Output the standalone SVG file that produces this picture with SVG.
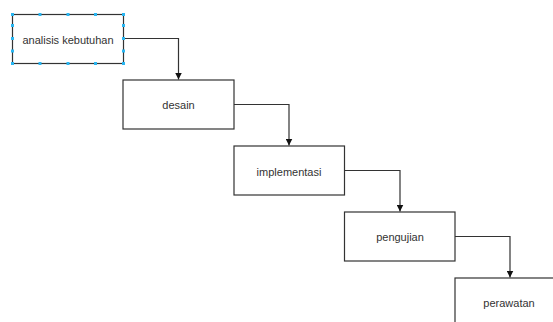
<svg xmlns="http://www.w3.org/2000/svg" width="553" height="322" viewBox="0 0 553 322">
<style>
.box{fill:#fff;stroke:#333;stroke-width:1.2}
.lbl{font-family:"Liberation Sans",Arial,sans-serif;font-size:11px;fill:#333;text-anchor:middle;dominant-baseline:central}
.edge{fill:none;stroke:#333;stroke-width:1.2}
.h{fill:#29b6f2}
</style>
<defs>
<marker id="arr" viewBox="0 0 10 10" refX="10" refY="5" markerWidth="7" markerHeight="7" markerUnits="userSpaceOnUse" orient="auto">
<path d="M0,0 L10,5 L0,10 Z" fill="#111"/>
</marker>
</defs>
<rect width="553" height="322" fill="#fff"/>
<g id="connectors">
<path class="edge" d="M123,38.5 H178.5 V79.5" marker-end="url(#arr)"/>
<path class="edge" d="M234,104.5 H289 V145.5" marker-end="url(#arr)"/>
<path class="edge" d="M344.5,170.5 H400 V211.5" marker-end="url(#arr)"/>
<path class="edge" d="M455,236.5 H510 V277.5" marker-end="url(#arr)"/>
</g>
<g id="n1">
<rect class="box" x="12.5" y="14.5" width="111" height="49"/>
<text class="lbl" x="68" y="39.5">analisis kebutuhan</text>
<g class="h">
<rect x="11" y="13" width="3" height="3"/><rect x="38.5" y="13" width="3" height="3"/><rect x="66.5" y="13" width="3" height="3"/><rect x="94" y="13" width="3" height="3"/><rect x="122" y="13" width="3" height="3"/>
<rect x="11" y="62" width="3" height="3"/><rect x="38.5" y="62" width="3" height="3"/><rect x="66.5" y="62" width="3" height="3"/><rect x="94" y="62" width="3" height="3"/><rect x="122" y="62" width="3" height="3"/>
<rect x="11" y="24" width="3" height="3"/><rect x="11" y="37" width="3" height="3"/><rect x="11" y="49.5" width="3" height="3"/>
<rect x="122" y="24" width="3" height="3"/><rect x="122" y="37" width="3" height="3"/><rect x="122" y="49.5" width="3" height="3"/>
</g>
</g>
<g id="n2">
<rect class="box" x="123" y="80" width="111" height="49"/>
<text class="lbl" x="178.5" y="105">desain</text>
</g>
<g id="n3">
<rect class="box" x="234" y="146" width="110.5" height="49"/>
<text class="lbl" x="289" y="171.5">implementasi</text>
</g>
<g id="n4">
<rect class="box" x="344.5" y="212" width="110.5" height="49"/>
<text class="lbl" x="400" y="237">pengujian</text>
</g>
<g id="n5">
<rect class="box" x="455" y="278" width="111" height="49"/>
<text class="lbl" x="509" y="303">perawatan</text>
</g>
</svg>
